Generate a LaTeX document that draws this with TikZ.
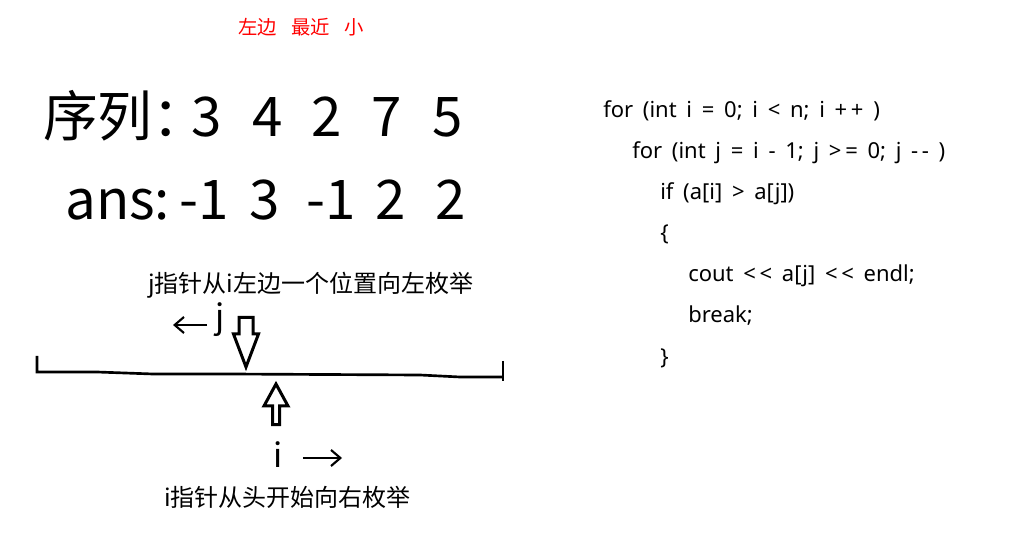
\documentclass[tikz,border=0pt]{standalone}
\usepackage{fontspec}
\setmainfont{Noto Sans CJK SC}
\newfontfamily\codefont{Noto Sans}[Ligatures=TeXOff,WordSpace=1.7]
\usetikzlibrary{arrows.meta}

\begin{document}
\begin{tikzpicture}[x=0.75pt,y=-0.75pt,
    bigtext/.style={anchor=base west,inner sep=0pt,font=\fontsize{41}{41}\selectfont},
    bignum/.style={anchor=base,inner sep=0pt,font=\fontsize{41}{41}\selectfont},
    codeline/.style={anchor=base west,inner sep=0pt,font=\codefont\fontsize{16.5}{16.5}\selectfont},
    note/.style={anchor=west,inner sep=0pt,font=\fontsize{18}{18}\selectfont},
    hand/.style={inner sep=1pt,font=\fontsize{25}{25}\selectfont},
    handarrow/.style={line width=1.6pt,-{Straight Barb[length=7pt,width=12pt]}},
    hollow/.style={draw,line width=2.25pt,line join=miter,fill=white}]
    \useasboundingbox (0,0) rectangle (1026,549);

    % Title
    \node[anchor=west,inner sep=0pt,text=red,font=\fontsize{14.5}{14.5}\selectfont] (title) at (238,27)
        {左边\hspace{0.75em}最近\hspace{0.75em}小};

    % Sequence and answers
    \node[bigtext] (seqlabel) at (43,137) {序列：};
    \foreach \x/\v [count=\k] in {207/3, 268/4, 327/2, 387/7, 448/5} {
        \node[bignum] (seq\k) at (\x,137) {\v};
    }
    \node[bigtext] (anslabel) at (65,220) {ans:};
    \foreach \x/\v [count=\k] in {204/-1, 265/3, 331/-1, 391/2, 451/2} {
        \node[bignum] (ans\k) at (\x,220) {\v};
    }

    % Code
    \foreach \x/\line [count=\k] in {603/{for (int i = 0; i < n; i +\,+ )},
                                   632/{for (int j = i - 1; j >\,= 0; j -\,- )},
                                   660/{if (a[i] > a[j])},
                                   660/{\{},
                                   688/{cout <\,< a[j] <\,< endl;},
                                   688/{break;},
                                   660/{\}}} {
        \node[codeline] (code\k) at (\x,{118+41*(\k-1)}) {\line};
    }

    % Scan bar
    \coordinate (barl) at (37,372);
    \coordinate (barr) at (503,377);
    \draw[line width=2pt] (37,356) -- (barl) -- (97,372) -- (153,374) -- (230,374)
        -- (420,375) -- (460,377) -- (barr);
    \draw[line width=2pt] (503,361) -- (503,381);

    % Pointer j
    \node[note] (jnote) at (148,285) {j指针从i左边一个位置向左枚举};
    \coordinate (jtip) at (246,367);
    \draw[hollow] (jtip) -- (258.5,334) -- (253,334) -- (253,317.5) -- (239,317.5)
        -- (239,334) -- (233.5,334) -- cycle;
    \node[hand] (jmark) at (220,320) {j};
    \coordinate (jleft) at (173,325);
    \draw[handarrow] ([xshift=-5pt]jmark.west |- jleft) -- (jleft);

    % Pointer i
    \coordinate (itip) at (276,384);
    \draw[hollow] (itip) -- (288,406) -- (279.5,406) -- (279.5,424.5) -- (272.5,424.5)
        -- (272.5,406) -- (264,406) -- cycle;
    \node[hand] (imark) at (278,455) {i};
    \coordinate (iright) at (342,458);
    \draw[handarrow] ([xshift=14pt]imark.east |- iright) -- (iright);
    \node[note] (inote) at (164,497) {i指针从头开始向右枚举};
\end{tikzpicture}
\end{document}
